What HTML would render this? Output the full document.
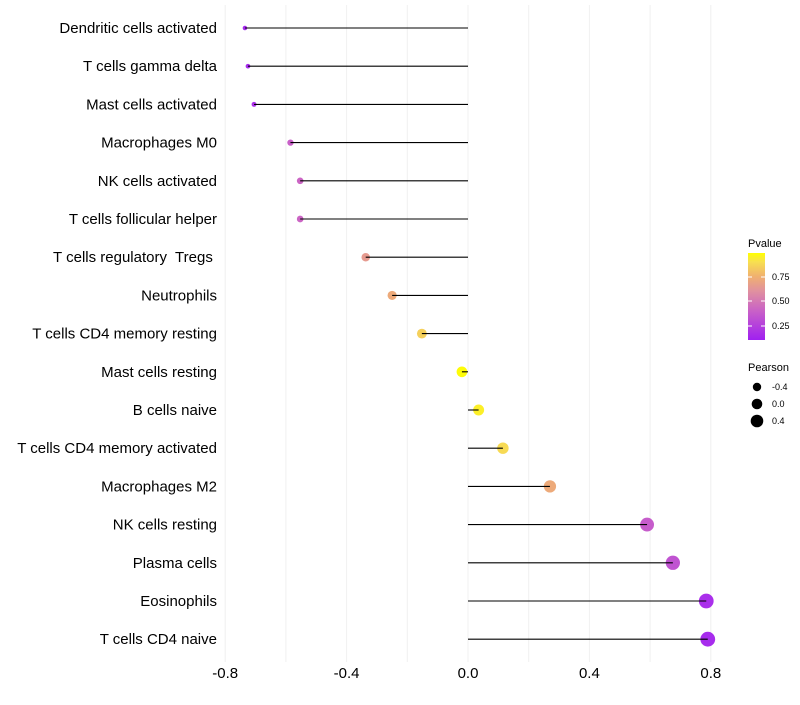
<!DOCTYPE html>
<html><head><meta charset="utf-8"><style>
body{margin:0;background:#fff;font-family:"Liberation Sans",sans-serif;}
svg text{font-family:"Liberation Sans",sans-serif;white-space:pre;}
</style></head><body>
<svg id="chart" width="800" height="700" xmlns="http://www.w3.org/2000/svg"></svg>
<script>
const categories=["Dendritic cells activated","T cells gamma delta","Mast cells activated","Macrophages M0","NK cells activated","T cells follicular helper","T cells regulatory  Tregs ","Neutrophils","T cells CD4 memory resting","Mast cells resting","B cells naive","T cells CD4 memory activated","Macrophages M2","NK cells resting","Plasma cells","Eosinophils","T cells CD4 naive"];
const pearson=[-0.735,-0.725,-0.705,-0.585,-0.553,-0.553,-0.337,-0.25,-0.152,-0.02,0.035,0.115,0.27,0.59,0.675,0.785,0.79];
const pvalues=[0.11,0.12,0.15,0.4,0.42,0.42,0.65,0.72,0.85,0.99,0.95,0.88,0.72,0.38,0.33,0.14,0.12];
const xTicks=[-0.8,-0.4,0.0,0.4,0.8];
const xTickLabels=["-0.8","-0.4","0.0","0.4","0.8"];
const gridVals=[-0.8,-0.6,-0.4,-0.2,0,0.2,0.4,0.6,0.8];

const svg=document.getElementById('chart');
const NS='http://www.w3.org/2000/svg';
function mk(t,a){const e=document.createElementNS(NS,t);for(const k in a)e.setAttribute(k,a[k]);svg.appendChild(e);return e;}
const x=v=>468+v*303.5;
const y=i=>28+i*38.2;
const r=p=>Math.sqrt(Math.max(2,29+32.5*p));
const stops=[[0.1,[165,40,240]],[0.4,[200,96,200]],[0.6,[225,144,160]],[0.75,[240,176,112]],[0.9,[248,224,80]],[1.0,[255,255,0]]];
function col(p){if(p<=stops[0][0])return 'rgb('+stops[0][1]+')';for(let i=1;i<stops.length;i++){if(p<=stops[i][0]){const a=stops[i-1],b=stops[i],t=(p-a[0])/(b[0]-a[0]);return 'rgb('+a[1].map((c,j)=>Math.round(c+(b[1][j]-c)*t)).join(',')+')';}}return 'rgb(255,255,0)';}

gridVals.forEach(g=>{
const l=mk('line',{x1:x(g),x2:x(g),y1:5,y2:662,stroke:'#f0f0f0','stroke-width':1});


});
xTicks.forEach((t,i)=>{
const tx=mk('text',{x:x(t),y:678,'font-size':15,'text-anchor':'middle',fill:'#000'});
tx.textContent=xTickLabels[i];


});
categories.forEach((c,i)=>{
const lb=mk('text',{x:217,y:y(i)+5,'font-size':15,'text-anchor':'end',fill:'#000','xml:space':'preserve'});
lb.textContent=c;


const pt=mk('circle',{cx:x(pearson[i]),cy:y(i),r:r(pearson[i]),fill:col(pvalues[i])});


const sg=mk('line',{x1:x(0),x2:x(pearson[i]),y1:y(i),y2:y(i),stroke:'#000','stroke-width':1.1});


});
const defs=mk('defs',{});
defs.innerHTML='<linearGradient id="pg" x1="0" y1="1" x2="0" y2="0"><stop offset="0" stop-color="#a020f0"/><stop offset="0.33" stop-color="#c860c8"/><stop offset="0.56" stop-color="#e090a0"/><stop offset="0.73" stop-color="#f0b070"/><stop offset="0.9" stop-color="#f8e050"/><stop offset="1" stop-color="#ffff00"/></linearGradient>';
const lt=mk('text',{x:748,y:247,'font-size':11});lt.textContent='Pvalue';


const bar=mk('rect',{x:748,y:253,width:17,height:87,fill:'url(#pg)'});


[["0.75",277],["0.50",301],["0.25",326]].forEach(a=>{
mk('line',{x1:748,x2:752,y1:a[1],y2:a[1],stroke:'#fff'});mk('line',{x1:761,x2:765,y1:a[1],y2:a[1],stroke:'#fff'});
const t=mk('text',{x:772,y:a[1]+3,'font-size':9});t.textContent=a[0];


});
const pt2=mk('text',{x:748,y:371,'font-size':11});pt2.textContent='Pearson';


[["-0.4",387,4.2],["0.0",404,5.3],["0.4",421,6.3]].forEach(a=>{
const c=mk('circle',{cx:757,cy:a[1],r:a[2],fill:'#000'});


const t=mk('text',{x:772,y:a[1]+3,'font-size':9});t.textContent=a[0];


});
</script>
</body></html>
